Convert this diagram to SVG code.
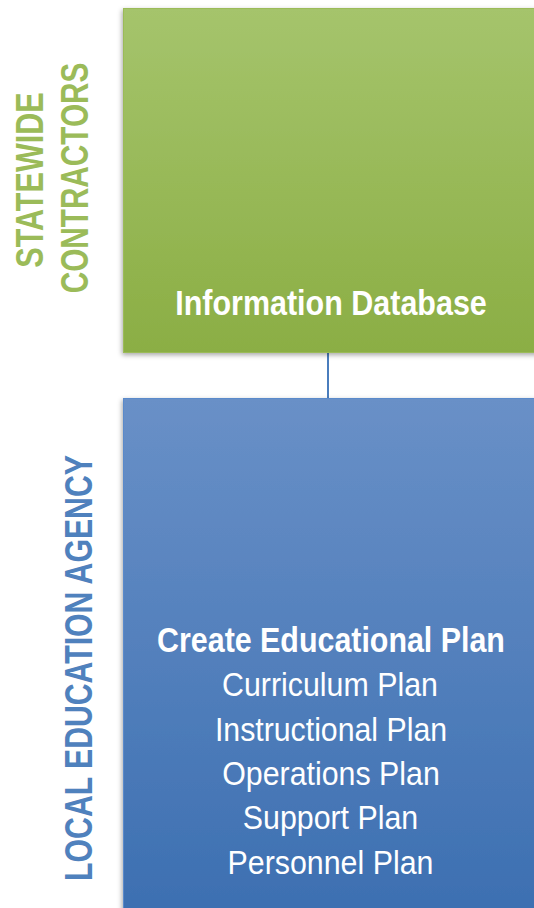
<svg xmlns="http://www.w3.org/2000/svg" width="534" height="908" viewBox="0 0 534 908">
<style>
.lbl{font-family:"Liberation Sans",Arial,sans-serif;font-weight:bold;font-size:39px;text-anchor:middle}
.g{fill:#9bbb59}
.b{fill:#4f81bd}
.t{font-family:"Liberation Sans",Arial,sans-serif;fill:#ffffff;text-anchor:middle}
.hd{font-weight:bold;font-size:35px}
.it{font-size:33px}
</style>
<defs>
<linearGradient id="gg" x1="0" y1="0" x2="0" y2="1">
<stop offset="0" stop-color="#a5c46c"/>
<stop offset="1" stop-color="#8bae44"/>
</linearGradient>
<linearGradient id="bg" x1="0" y1="0" x2="0" y2="1">
<stop offset="0" stop-color="#6990c7"/>
<stop offset="1" stop-color="#3c6fb1"/>
</linearGradient>
<filter id="sh" x="-10%" y="-10%" width="120%" height="120%">
<feDropShadow dx="-1" dy="2" stdDeviation="2.5" flood-color="#000" flood-opacity="0.35"/>
</filter>
</defs>
<rect width="534" height="908" fill="#ffffff"/>
<g id="lanes">
<text class="lbl g" transform="translate(43,180) rotate(-90) scale(0.784,1)">STATEWIDE</text>
<text class="lbl g" transform="translate(88,178) rotate(-90) scale(0.762,1)">CONTRACTORS</text>
<text class="lbl b" transform="translate(92,668) rotate(-90) scale(0.775,1)">LOCAL EDUCATION AGENCY</text>
</g>
<g id="connectors">
<line x1="328" y1="353" x2="328" y2="399" stroke="#4a7dbd" stroke-width="2"/>
</g>
<g id="info-db">
<rect x="123.5" y="8.5" width="420" height="344" fill="url(#gg)" stroke="#9bbb59" stroke-width="1" filter="url(#sh)"/>
<text class="t hd" transform="translate(331,315) scale(0.871,1)">Information Database</text>
</g>
<g id="edu-plan">
<rect x="123.5" y="398.5" width="420" height="520" fill="url(#bg)" stroke="#5a8acb" stroke-width="1" filter="url(#sh)"/>
<text class="t hd" transform="translate(331,652) scale(0.8685,1)">Create Educational Plan</text>
<text class="t it" transform="translate(330,696) scale(0.92,1)">Curriculum Plan</text>
<text class="t it" transform="translate(331,741) scale(0.917,1)">Instructional Plan</text>
<text class="t it" transform="translate(331,785) scale(0.92,1)">Operations Plan</text>
<text class="t it" transform="translate(330.5,829) scale(0.92,1)">Support Plan</text>
<text class="t it" transform="translate(330.5,874) scale(0.92,1)">Personnel Plan</text>
</g>
</svg>
